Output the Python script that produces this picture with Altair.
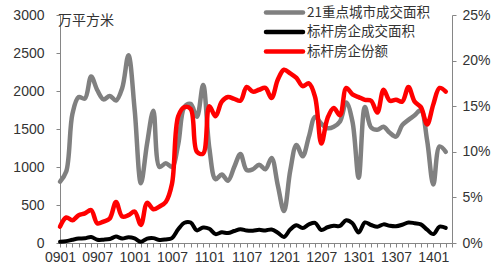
import altair as alt
import pandas as pd

months = ["0901", "0902", "0903", "0904", "0905", "0906", "0907", "0908", "0909", "0910", "0911", "0912",
          "1001", "1002", "1003", "1004", "1005", "1006", "1007", "1008", "1009", "1010", "1011", "1012",
          "1101", "1102", "1103", "1104", "1105", "1106", "1107", "1108", "1109", "1110", "1111", "1112",
          "1201", "1202", "1203", "1204", "1205", "1206", "1207", "1208", "1209", "1210", "1211", "1212",
          "1301", "1302", "1303", "1304", "1305", "1306", "1307", "1308", "1309", "1310", "1311", "1312",
          "1401", "1402", "1403"]

city_area = [807, 940, 1700, 1920, 1900, 2190, 2010, 1890, 1935, 1875,
             2040, 2470, 1750, 785, 1310, 1740, 1000, 1050, 1000, 1300,
             1790, 1830, 1660, 2080, 1250, 840, 900, 820, 1000, 1170,
             960, 970, 1030, 970, 1120, 760, 420, 950, 1290, 1140,
             1400, 1660, 1570, 1510, 1530, 1600, 1850, 1600, 860, 1790,
             1520, 1490, 1530, 1450, 1400, 1550, 1620, 1680, 1750, 1350,
             770, 1270, 1200]

bench_area = [15, 25, 43, 58, 62, 79, 43, 44, 52, 84,
              59, 75, 60, 15, 58, 64, 40, 47, 65, 180,
              267, 269, 166, 204, 187, 117, 140, 131, 158, 182,
              164, 161, 173, 165, 178, 136, 80, 177, 233, 196,
              245, 266, 171, 207, 226, 224, 300, 261, 138, 270,
              237, 213, 245, 226, 220, 240, 270, 260, 245, 175,
              117, 216, 199]

bench_share = [1.8, 2.8, 2.5, 3.05, 3.25, 3.6, 2.15, 2.35, 2.7, 4.5,
               2.9, 3.05, 3.45, 1.97, 4.4, 3.7, 4.0, 4.5, 6.5, 13.9,
               14.9, 14.7, 10.0, 9.8, 15.0, 13.9, 15.5, 16.0, 15.8, 15.6,
               17.1, 16.6, 16.8, 17.0, 15.9, 17.9, 19.0, 18.6, 18.1, 17.2,
               17.5, 16.0, 10.9, 13.7, 14.8, 14.0, 17.0, 16.3, 16.0, 15.7,
               15.6, 14.3, 16.8, 15.6, 15.7, 15.5, 17.1, 15.5, 14.9, 13.0,
               15.2, 17.0, 16.6]

series_names = ["21重点城市成交面积", "标杆房企成交面积", "标杆房企份额"]
series_colors = ["#808080", "#000000", "#ff0000"]
unit_label = "万平方米"
left_ticks = [0, 500, 1000, 1500, 2000, 2500, 3000]
right_ticks = [0, 5, 10, 15, 20, 25]

df = pd.DataFrame({
    "idx": list(range(len(months))),
    "month": months,
    "city": city_area,
    "bench": bench_area,
    "share": bench_share,
})

FONT = "Liberation Sans"
CJK = "Noto Sans CJK SC"
AXIS_COLOR = "#868686"
LABEL_COLOR = "#333333"

n_slots = len(months) + 1
label_arr = "[" + ",".join("'" + m + "'" for m in months) + "]"
x_axis = alt.Axis(
    values=list(range(n_slots)),
    labelExpr=f"(datum.value % 6 == 0 && datum.value < {len(months)}) ? {label_arr}[datum.value] : ''",
    labelOverlap=False, labelFlush=False, labelBound=False,
    grid=False, tickSize=4, labelPadding=3, title=None,
)
x_enc = alt.X("idx:Q", scale=alt.Scale(domain=[0, n_slots - 1], nice=False, zero=False), axis=x_axis)

left_scale = alt.Scale(domain=[0, 3000], nice=False)
left_axis = alt.Axis(values=left_ticks, title=None, grid=False, tickSize=4, labelPadding=12, format="d")

base = alt.Chart(df)
line_kw = dict(interpolate="catmull-rom", strokeCap="round", strokeJoin="round")

gray_line = base.mark_line(color=series_colors[0], strokeWidth=4.5, **line_kw).encode(
    x=x_enc, y=alt.Y("city:Q", scale=left_scale, axis=left_axis))
black_line = base.mark_line(color=series_colors[1], strokeWidth=4, **line_kw).encode(
    x=x_enc, y=alt.Y("bench:Q", scale=left_scale, axis=left_axis))
left_layer = alt.layer(gray_line, black_line)

red_line = base.mark_line(color=series_colors[2], strokeWidth=4.5, **line_kw).encode(
    x=x_enc,
    y=alt.Y("share:Q", scale=alt.Scale(domain=[0, 25], nice=False),
            axis=alt.Axis(orient="right", values=right_ticks, labelExpr="datum.value + '%'",
                          title=None, grid=False, tickSize=4, labelPadding=6)))

# legend (manual, drawn in top-right of plot)
legend_layers = []
row_y = [-2.5, 17, 36.5]
for name, col, yy in zip(series_names, series_colors, row_y):
    one = pd.DataFrame({"t": [name]})
    legend_layers.append(
        alt.Chart(one).mark_rule(color=col, strokeWidth=4.5, strokeCap="round").encode(
            x=alt.value(206), x2=alt.value(243), y=alt.value(yy)))
    legend_layers.append(
        alt.Chart(one).mark_text(align="left", baseline="middle", font=CJK, fontSize=13.5,
                                 color=LABEL_COLOR).encode(
            text="t:N", x=alt.value(247), y=alt.value(yy)))

unit_text = alt.Chart(pd.DataFrame({"t": [unit_label]})).mark_text(
    align="left", baseline="middle", font=CJK, fontSize=14, color=LABEL_COLOR
).encode(text="t:N", x=alt.value(-2), y=alt.value(6))

chart = alt.layer(left_layer, red_line, unit_text, *legend_layers).resolve_scale(
    y="independent"
).properties(
    width=392, height=228,
    autosize=alt.AutoSizeParams(type="none"),
    padding={"left": 60, "top": 15, "right": 40, "bottom": 27},
).configure_view(stroke=None).configure_axis(
    labelFont=FONT, labelFontSize=14, labelColor=LABEL_COLOR,
    domainColor=AXIS_COLOR, tickColor=AXIS_COLOR, domainWidth=1, tickWidth=1,
)

chart.save("out.html", embed_options={"renderer": "svg", "actions": False})
